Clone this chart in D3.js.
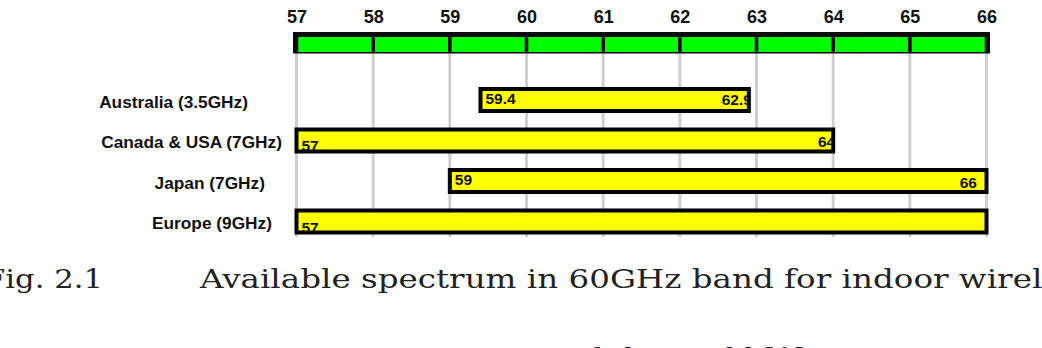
<!DOCTYPE html>
<html>
<head>
<meta charset="utf-8">
<script src="https://cdn.jsdelivr.net/npm/d3@7"></script>
<style>
  html, body { margin: 0; padding: 0; background: #fff; }
  svg { display: block; }
</style>
</head>
<body>
<svg id="chart" width="1042" height="348"></svg>
<script>
// ---- data ----
const categories = ["Australia (3.5GHz)", "Canada & USA (7GHz)", "Japan (7GHz)", "Europe (9GHz)"];
const bandStart = [59.4, 57, 59, 57];
const bandEnd = [62.9, 64, 66, 66];
const startLabels = ["59.4", "57", "59", "57"];
const endLabels = ["62.9", "64", "66", ""];
const tickValues = [57, 58, 59, 60, 61, 62, 63, 64, 65, 66];
const captionLine1 = ["Fig. 2.1", "Available spectrum in 60GHz band for indoor wireless"];
const captionLine2 = "communications around the world [1]";

// ---- layout / style constants ----
const labelRight = [248, 282, 265, 272];
const startDy = [4, 10, 4, 11];
const endDy = [5, 6, 7, 6];
const endDx = [3, 2, -9.5, 0];

const svg = d3.select("#chart");
const x = d3.scaleLinear().domain([57, 66]).range([296.5, 986.5]);
const y = d3.scalePoint().domain(categories).range([79.75, 241.75]).padding(0.5);

const sans = "'Liberation Sans', Arial, sans-serif";

// grid lines
svg.append("g").selectAll("line").data(tickValues).join("line")
  .attr("x1", d => x(d)).attr("x2", d => x(d))
  .attr("y1", 53).attr("y2", 237)
  .attr("stroke", "#cfcfcf").attr("stroke-width", 3);

// top axis (tick labels only)
const axis = d3.axisTop(x).tickValues(tickValues).tickFormat(d3.format("d")).tickSize(0).tickPadding(0);
const ag = svg.append("g").attr("transform", "translate(0,23)").call(axis);
ag.select(".domain").remove();
ag.selectAll("text")
  .attr("dy", 0)
  .attr("font-family", sans).attr("font-weight", "bold").attr("font-size", "18px")
  .attr("fill", "#111");

// green spectrum band
svg.append("rect")
  .attr("x", x(57) - 3.5).attr("y", 32)
  .attr("width", x(66) - x(57) + 7).attr("height", 21.5)
  .attr("fill", "#0a0a0a");
svg.append("g").selectAll("rect").data(tickValues.slice(0, -1)).join("rect")
  .attr("x", d => x(d) + 1.8)
  .attr("y", 37)
  .attr("width", d => x(d + 1) - x(d) - 3.6)
  .attr("height", 15)
  .attr("fill", "#00ff00");

// bars
const rows = categories.map((c, i) => ({c, i, s: bandStart[i], e: bandEnd[i]}));
const defs = svg.append("defs");
rows.forEach(r => {
  defs.append("clipPath").attr("id", "clip" + r.i)
    .append("rect")
    .attr("x", x(r.s) + 2).attr("y", y(r.c) - 11)
    .attr("width", x(r.e) - x(r.s) - 4).attr("height", 22);
});

const bars = svg.append("g").selectAll("g").data(rows).join("g");
bars.append("rect")
  .attr("x", d => x(d.s)).attr("y", d => y(d.c) - 11)
  .attr("width", d => x(d.e) - x(d.s)).attr("height", 22)
  .attr("fill", "#ffff00").attr("stroke", "#000").attr("stroke-width", 4);

bars.append("text")
  .attr("clip-path", d => "url(#clip" + d.i + ")")
  .attr("x", d => x(d.s) + 5)
  .attr("y", d => y(d.c) + startDy[d.i])
  .attr("font-family", sans).attr("font-weight", "bold").attr("font-size", "15.5px")
  .attr("fill", "#111")
  .text(d => startLabels[d.i]);

bars.append("text")
  .attr("clip-path", d => "url(#clip" + d.i + ")")
  .attr("x", d => x(d.e) + endDx[d.i])
  .attr("y", d => y(d.c) + endDy[d.i])
  .attr("text-anchor", "end")
  .attr("font-family", sans).attr("font-weight", "bold").attr("font-size", "15.5px")
  .attr("fill", "#111")
  .text(d => endLabels[d.i]);

// category labels
svg.append("g").selectAll("text").data(rows).join("text")
  .attr("x", d => labelRight[d.i])
  .attr("y", d => y(d.c) + 7.5)
  .attr("text-anchor", "end")
  .attr("font-family", sans).attr("font-weight", "bold").attr("font-size", "17.3px")
  .attr("fill", "#111")
  .text(d => d.c);

// caption
const serif = "'DejaVu Serif', 'Liberation Serif', serif";
svg.append("text")
  .attr("x", -16).attr("y", 288)
  .attr("font-family", serif).attr("font-size", "26px").attr("fill", "#222")
  .attr("textLength", 119).attr("lengthAdjust", "spacingAndGlyphs")
  .text(captionLine1[0]);
svg.append("text")
  .attr("x", 200).attr("y", 288)
  .attr("font-family", serif).attr("font-size", "26px").attr("fill", "#222")
  .attr("textLength", 895).attr("lengthAdjust", "spacingAndGlyphs")
  .text(captionLine1[1]);
svg.append("text")
  .attr("x", 245).attr("y", 367)
  .attr("font-family", serif).attr("font-size", "26px").attr("fill", "#222")
  .attr("textLength", 560).attr("lengthAdjust", "spacingAndGlyphs")
  .text(captionLine2);
</script>
</body>
</html>
